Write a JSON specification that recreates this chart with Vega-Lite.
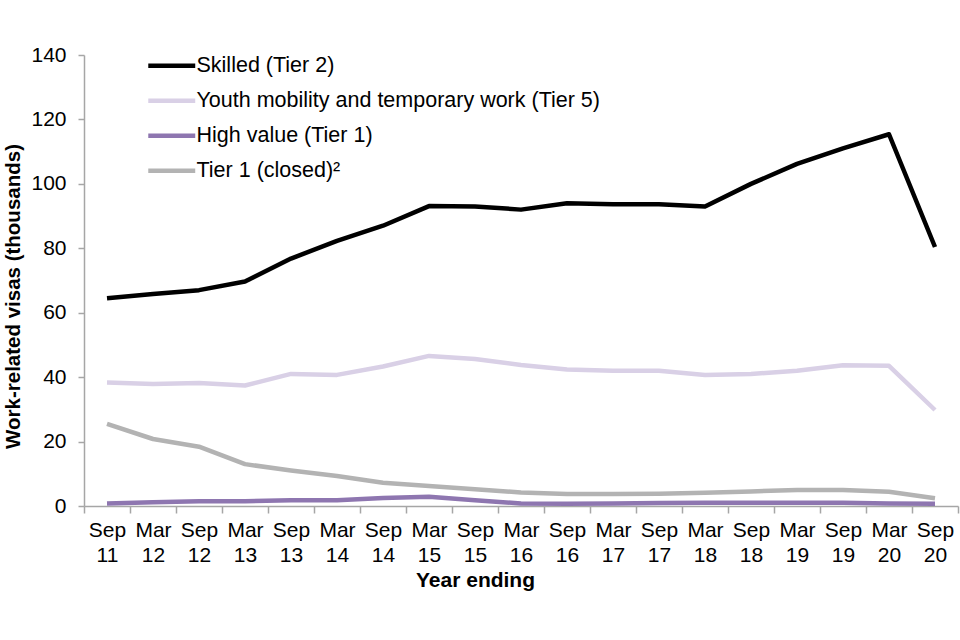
{
  "$schema": "https://vega.github.io/schema/vega-lite/v6.json",
  "autosize": "none",
  "width": 874,
  "height": 451,
  "padding": {"left": 84, "top": 55, "right": 2, "bottom": 134},
  "background": "white",
  "config": {
    "view": {"stroke": null},
    "font": "Liberation Sans",
    "axis": {"labelFont": "Liberation Sans", "titleFont": "Liberation Sans", "labelColor": "black", "titleColor": "black", "domainColor": "#a6a6a6", "tickColor": "#a6a6a6", "grid": false}
  },
  "data": {
    "values": [
      {"period": "Sep 11", "series": "Skilled (Tier 2)", "value": 64.5},
      {"period": "Mar 12", "series": "Skilled (Tier 2)", "value": 65.8},
      {"period": "Sep 12", "series": "Skilled (Tier 2)", "value": 67.0},
      {"period": "Mar 13", "series": "Skilled (Tier 2)", "value": 69.7},
      {"period": "Sep 13", "series": "Skilled (Tier 2)", "value": 76.8},
      {"period": "Mar 14", "series": "Skilled (Tier 2)", "value": 82.3},
      {"period": "Sep 14", "series": "Skilled (Tier 2)", "value": 87.0},
      {"period": "Mar 15", "series": "Skilled (Tier 2)", "value": 93.1},
      {"period": "Sep 15", "series": "Skilled (Tier 2)", "value": 93.0},
      {"period": "Mar 16", "series": "Skilled (Tier 2)", "value": 92.0},
      {"period": "Sep 16", "series": "Skilled (Tier 2)", "value": 94.0},
      {"period": "Mar 17", "series": "Skilled (Tier 2)", "value": 93.7},
      {"period": "Sep 17", "series": "Skilled (Tier 2)", "value": 93.7},
      {"period": "Mar 18", "series": "Skilled (Tier 2)", "value": 93.0},
      {"period": "Sep 18", "series": "Skilled (Tier 2)", "value": 100.0},
      {"period": "Mar 19", "series": "Skilled (Tier 2)", "value": 106.2},
      {"period": "Sep 19", "series": "Skilled (Tier 2)", "value": 111.0},
      {"period": "Mar 20", "series": "Skilled (Tier 2)", "value": 115.4},
      {"period": "Sep 20", "series": "Skilled (Tier 2)", "value": 80.4},
      {"period": "Sep 11", "series": "Youth mobility and temporary work (Tier 5)", "value": 38.3},
      {"period": "Mar 12", "series": "Youth mobility and temporary work (Tier 5)", "value": 37.9},
      {"period": "Sep 12", "series": "Youth mobility and temporary work (Tier 5)", "value": 38.2},
      {"period": "Mar 13", "series": "Youth mobility and temporary work (Tier 5)", "value": 37.4},
      {"period": "Sep 13", "series": "Youth mobility and temporary work (Tier 5)", "value": 41.0},
      {"period": "Mar 14", "series": "Youth mobility and temporary work (Tier 5)", "value": 40.7},
      {"period": "Sep 14", "series": "Youth mobility and temporary work (Tier 5)", "value": 43.3},
      {"period": "Mar 15", "series": "Youth mobility and temporary work (Tier 5)", "value": 46.6},
      {"period": "Sep 15", "series": "Youth mobility and temporary work (Tier 5)", "value": 45.6},
      {"period": "Mar 16", "series": "Youth mobility and temporary work (Tier 5)", "value": 43.8},
      {"period": "Sep 16", "series": "Youth mobility and temporary work (Tier 5)", "value": 42.4},
      {"period": "Mar 17", "series": "Youth mobility and temporary work (Tier 5)", "value": 42.0},
      {"period": "Sep 17", "series": "Youth mobility and temporary work (Tier 5)", "value": 42.0},
      {"period": "Mar 18", "series": "Youth mobility and temporary work (Tier 5)", "value": 40.7},
      {"period": "Sep 18", "series": "Youth mobility and temporary work (Tier 5)", "value": 41.0},
      {"period": "Mar 19", "series": "Youth mobility and temporary work (Tier 5)", "value": 42.0},
      {"period": "Sep 19", "series": "Youth mobility and temporary work (Tier 5)", "value": 43.7},
      {"period": "Mar 20", "series": "Youth mobility and temporary work (Tier 5)", "value": 43.5},
      {"period": "Sep 20", "series": "Youth mobility and temporary work (Tier 5)", "value": 29.8},
      {"period": "Sep 11", "series": "High value (Tier 1)", "value": 0.8},
      {"period": "Mar 12", "series": "High value (Tier 1)", "value": 1.2},
      {"period": "Sep 12", "series": "High value (Tier 1)", "value": 1.5},
      {"period": "Mar 13", "series": "High value (Tier 1)", "value": 1.5},
      {"period": "Sep 13", "series": "High value (Tier 1)", "value": 1.8},
      {"period": "Mar 14", "series": "High value (Tier 1)", "value": 1.8},
      {"period": "Sep 14", "series": "High value (Tier 1)", "value": 2.5},
      {"period": "Mar 15", "series": "High value (Tier 1)", "value": 2.9},
      {"period": "Sep 15", "series": "High value (Tier 1)", "value": 1.8},
      {"period": "Mar 16", "series": "High value (Tier 1)", "value": 0.8},
      {"period": "Sep 16", "series": "High value (Tier 1)", "value": 0.7},
      {"period": "Mar 17", "series": "High value (Tier 1)", "value": 0.8},
      {"period": "Sep 17", "series": "High value (Tier 1)", "value": 0.9},
      {"period": "Mar 18", "series": "High value (Tier 1)", "value": 1.0},
      {"period": "Sep 18", "series": "High value (Tier 1)", "value": 1.0},
      {"period": "Mar 19", "series": "High value (Tier 1)", "value": 1.0},
      {"period": "Sep 19", "series": "High value (Tier 1)", "value": 1.0},
      {"period": "Mar 20", "series": "High value (Tier 1)", "value": 0.8},
      {"period": "Sep 20", "series": "High value (Tier 1)", "value": 0.7},
      {"period": "Sep 11", "series": "Tier 1 (closed)²", "value": 25.5},
      {"period": "Mar 12", "series": "Tier 1 (closed)²", "value": 20.8},
      {"period": "Sep 12", "series": "Tier 1 (closed)²", "value": 18.4},
      {"period": "Mar 13", "series": "Tier 1 (closed)²", "value": 13.0},
      {"period": "Sep 13", "series": "Tier 1 (closed)²", "value": 11.0},
      {"period": "Mar 14", "series": "Tier 1 (closed)²", "value": 9.3},
      {"period": "Sep 14", "series": "Tier 1 (closed)²", "value": 7.2},
      {"period": "Mar 15", "series": "Tier 1 (closed)²", "value": 6.2},
      {"period": "Sep 15", "series": "Tier 1 (closed)²", "value": 5.2},
      {"period": "Mar 16", "series": "Tier 1 (closed)²", "value": 4.2},
      {"period": "Sep 16", "series": "Tier 1 (closed)²", "value": 3.7},
      {"period": "Mar 17", "series": "Tier 1 (closed)²", "value": 3.7},
      {"period": "Sep 17", "series": "Tier 1 (closed)²", "value": 3.8},
      {"period": "Mar 18", "series": "Tier 1 (closed)²", "value": 4.1},
      {"period": "Sep 18", "series": "Tier 1 (closed)²", "value": 4.5},
      {"period": "Mar 19", "series": "Tier 1 (closed)²", "value": 5.0},
      {"period": "Sep 19", "series": "Tier 1 (closed)²", "value": 5.0},
      {"period": "Mar 20", "series": "Tier 1 (closed)²", "value": 4.4},
      {"period": "Sep 20", "series": "Tier 1 (closed)²", "value": 2.4}
    ]
  },
  "mark": {"type": "line", "strokeWidth": 4.5, "strokeJoin": "round", "strokeCap": "butt"},
  "encoding": {
    "x": {
      "field": "period",
      "type": "ordinal",
      "sort": null,
      "scale": {"type": "band", "paddingInner": 0, "paddingOuter": 0},
      "axis": {
        "title": "Year ending",
        "titleFontSize": 21,
        "titleFontWeight": "bold",
        "titleX": 391,
        "titlePadding": 4,
        "labelFontSize": 21,
        "labelAngle": 0,
        "labelLineHeight": 25,
        "labelPadding": 6,
        "labelExpr": "split(datum.label, ' ')",
        "tickBand": "extent",
        "tickSize": 7,
        "domainWidth": 1.5,
        "tickWidth": 1.5
      }
    },
    "y": {
      "field": "value",
      "type": "quantitative",
      "scale": {"domain": [0, 140]},
      "axis": {
        "title": "Work-related visas (thousands)",
        "titleFontSize": 20.5,
        "titleFontWeight": "bold",
        "titlePadding": 7,
        "titleY": 241,
        "labelFontSize": 21,
        "labelPadding": 12,
        "values": [0, 20, 40, 60, 80, 100, 120, 140],
        "tickSize": 6,
        "domainWidth": 1.5,
        "tickWidth": 1.5
      }
    },
    "color": {
      "field": "series",
      "type": "nominal",
      "scale": {
        "domain": ["Skilled (Tier 2)", "Youth mobility and temporary work (Tier 5)", "High value (Tier 1)", "Tier 1 (closed)²"],
        "range": ["#000000", "#d9d0e6", "#8e76b0", "#b3b3b3"]
      },
      "legend": {
        "title": null,
        "orient": "none",
        "legendX": 77,
        "legendY": 0,
        "symbolType": "M-3,0H3",
        "symbolSize": 245,
        "symbolStrokeWidth": 4.5,
        "labelFontSize": 21.5,
        "labelFont": "Liberation Sans",
        "labelColor": "black",
        "labelOffset": 14,
        "rowPadding": 12,
        "labelLimit": 700
      }
    }
  }
}
